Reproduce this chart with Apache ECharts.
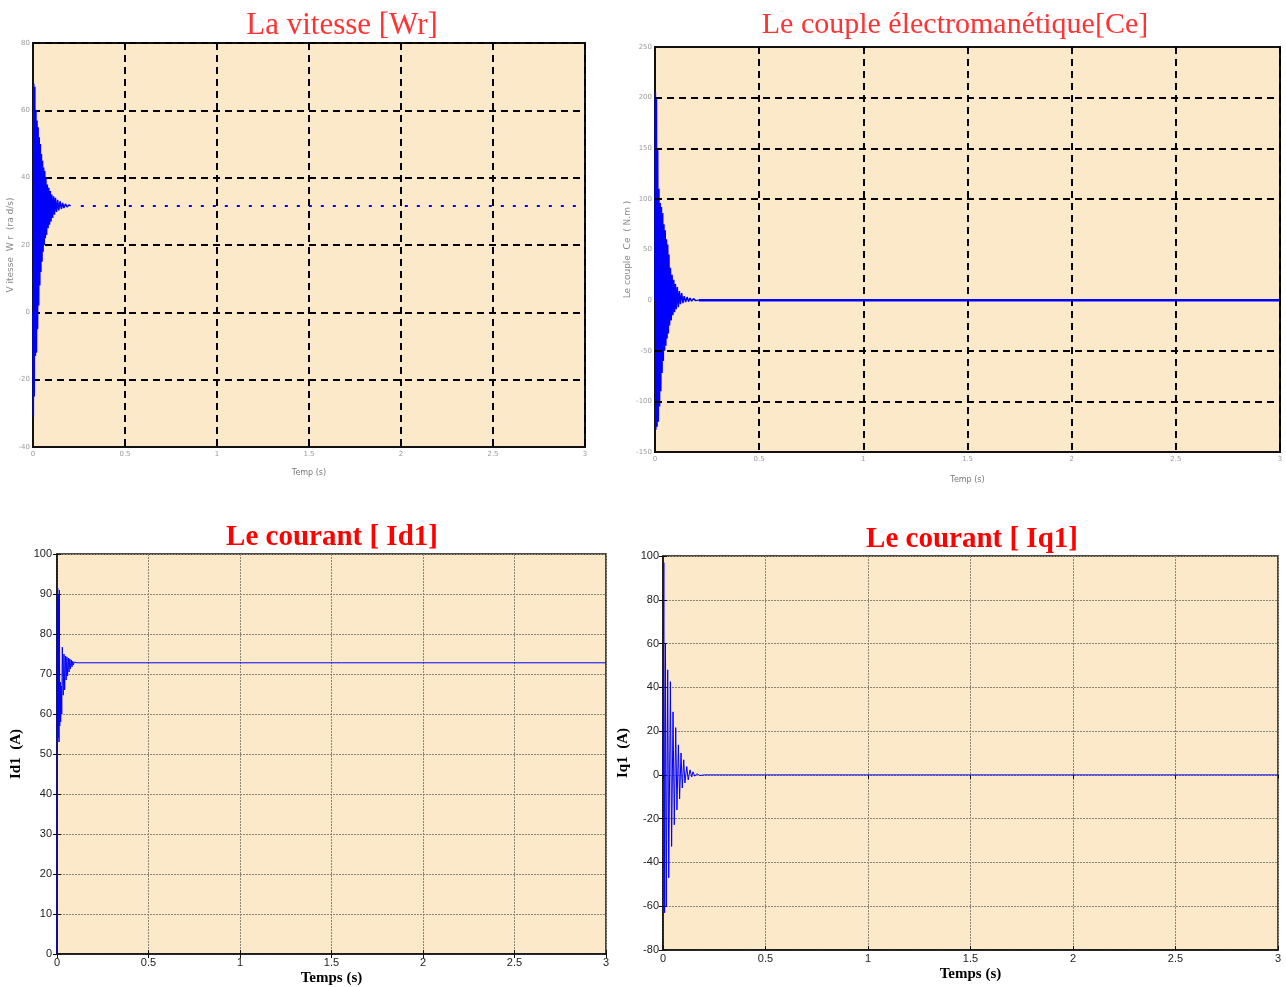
<!DOCTYPE html>
<html>
<head>
<meta charset="utf-8">
<title>Simulation MSAP</title>
<script src="https://cdn.jsdelivr.net/npm/echarts@6/dist/echarts.min.js"></script>
<style>
  html, body { margin: 0; padding: 0; background: #ffffff; }
  #chart { width: 1286px; height: 987px; }
</style>
</head>
<body>
<div id="chart"></div>
<script>
// ---- Time axis (seconds) shared by the four plots ----
const timeTicks = [0, 0.5, 1, 1.5, 2, 2.5, 3];

// ---- Vitesse Wr (rad/s): start-up transient then steady value ----
const wrTransient = [
  [0, 0], [0.002, -31], [0.004, 68], [0.007, -25], [0.010, 67], [0.013, -13],
  [0.016, 60], [0.019, -12], [0.022, 57], [0.025, -5], [0.028, 55], [0.031, 2],
  [0.034, 52], [0.037, 8], [0.040, 50], [0.043, 12], [0.046, 47], [0.049, 15],
  [0.052, 45], [0.055, 18], [0.058, 43], [0.061, 20], [0.064, 42], [0.067, 22],
  [0.070, 40], [0.074, 23], [0.078, 38], [0.082, 25], [0.086, 37], [0.090, 26],
  [0.094, 36], [0.098, 27], [0.102, 35], [0.107, 28], [0.112, 34.5], [0.117, 29],
  [0.122, 34], [0.128, 29.8], [0.134, 33.4], [0.140, 30.3], [0.147, 33], [0.154, 30.7],
  [0.161, 32.5], [0.168, 31], [0.176, 32.2], [0.185, 31.3], [0.195, 31.9], [0.205, 31.6]
];
const wrSteady = [[0.26, 31.6], [3, 31.6]];
const wrTicks = [-40, -20, 0, 20, 40, 60, 80];

// ---- Couple électromagnétique Ce (N.m) ----
const ceTransient = [
  [0, 0], [0.002, 205], [0.004, -128], [0.007, 200], [0.010, -125], [0.013, 150],
  [0.016, -120], [0.019, 110], [0.022, -105], [0.025, 96], [0.028, -90], [0.031, 92],
  [0.034, -72], [0.037, 86], [0.040, -60], [0.043, 75], [0.046, -50], [0.049, 69],
  [0.052, -45], [0.055, 60], [0.058, -38], [0.061, 55], [0.064, -33], [0.067, 45],
  [0.070, -25], [0.074, 32], [0.078, -20], [0.082, 25], [0.086, -15], [0.090, 20],
  [0.094, -12], [0.098, 16], [0.102, -9], [0.107, 13], [0.112, -7], [0.117, 9],
  [0.122, -4], [0.128, 7], [0.134, -3], [0.140, 4], [0.147, -2], [0.154, 3],
  [0.161, -1.5], [0.168, 2], [0.176, -1], [0.185, 1.5], [0.195, -0.5], [0.21, 0]
];
const ceSteady = [[0.21, 0], [3, 0]];
const ceTicks = [-150, -100, -50, 0, 50, 100, 150, 200, 250];
const ceGridLevels = [200, 150, 100, -50, -100];

// ---- Courant Id1 (A) ----
const id1Transient = [
  [0, 0], [0.001, 86], [0.004, 91.5], [0.007, 54], [0.009, 90], [0.011, 53],
  [0.013, 91], [0.015, 57], [0.018, 68], [0.020, 58], [0.023, 67], [0.026, 60],
  [0.029, 76.7], [0.034, 64.7], [0.038, 75], [0.042, 66], [0.046, 74.5], [0.050, 68.5],
  [0.054, 74.3], [0.058, 69.5], [0.062, 74], [0.066, 70.5], [0.070, 73.8], [0.074, 71.3],
  [0.078, 73.5], [0.082, 71.8], [0.086, 73.2], [0.090, 72.3], [0.095, 73], [0.100, 72.6],
  [0.110, 72.8]
];
const id1Steady = [[0.110, 72.8], [3, 72.8]];
const id1Ticks = [0, 10, 20, 30, 40, 50, 60, 70, 80, 90, 100];

// ---- Courant Iq1 (A) ----
const iq1Transient = [
  [0, 0], [0.004, 97], [0.008, -63], [0.012, 60], [0.016, -60], [0.023, 48],
  [0.028, -47], [0.036, 42.6], [0.042, -32.7], [0.049, 28.8], [0.055, -22.8],
  [0.062, 21.6], [0.068, -16], [0.075, 13.7], [0.081, -11], [0.088, 10], [0.094, -6],
  [0.101, 6.9], [0.107, -3.7], [0.116, 3.8], [0.123, -2.3], [0.132, 2.3], [0.140, -1],
  [0.146, 1.4], [0.155, -0.6], [0.165, 0.5], [0.180, -0.3], [0.200, 0]
];
const iq1Steady = [[0.200, 0], [3, 0]];
const iq1Ticks = [-80, -60, -40, -20, 0, 20, 40, 60, 80, 100];

// ---- Styling ----
const plotBg = '#fce9c9';
const traceBlue = '#0000ff';

const chart = echarts.init(document.getElementById('chart'), null, { renderer: 'canvas' });

function span(ticks) {
  return { min: ticks[0], max: ticks[ticks.length - 1], interval: ticks[1] - ticks[0] };
}

// Small, faded labels used on the two upper plots
const tinyLabel = { fontSize: 7, color: '#9a9a9a', fontFamily: 'DejaVu Sans' };
const dashedGrid = { show: true, lineStyle: { color: '#000', width: 2, type: [7, 5] } };
const thinGrid = { show: true, lineStyle: { color: '#8c8676', width: 1, type: [2, 1] } };
const boldSerif = { fontFamily: 'Liberation Serif', fontWeight: 'bold', fontSize: 15, color: '#000' };
const tickLabel = { fontFamily: 'Liberation Sans', fontSize: 11, color: '#222' };
const innerTick = { show: true, inside: true, length: 4, lineStyle: { color: '#111' } };

// Mirror axes carrying the inner ticks on the top and right edges of the lower plots
function mirrorX(gridIndex) {
  return { gridIndex, type: 'value', position: 'top', ...span(timeTicks),
    axisLine: { show: false }, axisTick: innerTick, axisLabel: { show: false }, splitLine: { show: false } };
}
function mirrorY(gridIndex, ticks) {
  return { gridIndex, type: 'value', position: 'right', ...span(ticks),
    axisLine: { show: false }, axisTick: innerTick, axisLabel: { show: false }, splitLine: { show: false } };
}

const option = {
  animation: false,
  backgroundColor: '#ffffff',
  title: [
    { text: 'La vitesse [Wr]', left: 337, top: 5, textAlign: 'center',
      textStyle: { fontFamily: 'Liberation Serif', fontWeight: 'normal', fontSize: 31, color: '#ff3333' } },
    { text: 'Le couple électromanétique[Ce]', left: 950, top: 5, textAlign: 'center',
      textStyle: { fontFamily: 'Liberation Serif', fontWeight: 'normal', fontSize: 30, color: '#ff3333' } },
    { text: 'Le courant [ Id1]', left: 327, top: 518, textAlign: 'center',
      textStyle: { fontFamily: 'Liberation Serif', fontWeight: 'bold', fontSize: 29, color: '#ff0000' } },
    { text: 'Le courant [ Iq1]', left: 967, top: 520, textAlign: 'center',
      textStyle: { fontFamily: 'Liberation Serif', fontWeight: 'bold', fontSize: 29, color: '#ff0000' } }
  ],
  grid: [
    { left: 33, top: 43, width: 552, height: 404, show: true, backgroundColor: plotBg, borderColor: '#111', borderWidth: 2 },
    { left: 655, top: 47, width: 625, height: 405, show: true, backgroundColor: plotBg, borderColor: '#111', borderWidth: 2 },
    { left: 57, top: 554, width: 549, height: 400, show: true, backgroundColor: plotBg, borderColor: '#111', borderWidth: 1.5 },
    { left: 663, top: 556, width: 615, height: 394, show: true, backgroundColor: plotBg, borderColor: '#111', borderWidth: 1.5 }
  ],
  xAxis: [
    { gridIndex: 0, type: 'value', ...span(timeTicks),
      axisLine: { show: true, onZero: false, lineStyle: { color: '#111', width: 2 } },
      axisTick: { show: false }, splitLine: dashedGrid,
      axisLabel: { ...tinyLabel, margin: 4 },
      name: 'Temp (s)', nameLocation: 'middle', nameGap: 22,
      nameTextStyle: { fontSize: 8, color: '#777', fontFamily: 'DejaVu Sans' } },
    { gridIndex: 1, type: 'value', ...span(timeTicks),
      axisLine: { show: true, onZero: false, lineStyle: { color: '#111', width: 2 } },
      axisTick: { show: false }, splitLine: dashedGrid,
      axisLabel: { ...tinyLabel, margin: 4 },
      name: 'Temp (s)', nameLocation: 'middle', nameGap: 24,
      nameTextStyle: { fontSize: 8, color: '#777', fontFamily: 'DejaVu Sans' } },
    { gridIndex: 2, type: 'value', ...span(timeTicks),
      axisLine: { show: true, onZero: false, lineStyle: { color: '#111', width: 1.5 } },
      axisTick: innerTick, splitLine: thinGrid,
      axisLabel: { ...tickLabel, margin: 3 },
      name: 'Temps (s)', nameLocation: 'middle', nameGap: 17, nameTextStyle: boldSerif },
    { gridIndex: 3, type: 'value', ...span(timeTicks),
      axisLine: { show: true, onZero: false, lineStyle: { color: '#111', width: 1.5 } },
      axisTick: innerTick, splitLine: thinGrid,
      axisLabel: { ...tickLabel, margin: 3 },
      name: 'Temps (s)', nameLocation: 'middle', nameGap: 17, nameTextStyle: boldSerif },
    mirrorX(2),
    mirrorX(3)
  ],
  yAxis: [
    { gridIndex: 0, type: 'value', ...span(wrTicks),
      axisLine: { show: true, onZero: false, lineStyle: { color: '#111', width: 2 } },
      axisTick: { show: false }, splitLine: dashedGrid,
      axisLabel: { ...tinyLabel, margin: 3 },
      name: 'V itesse  W r  (ra d/s)', nameLocation: 'middle', nameGap: 12, nameRotate: 90,
      nameTextStyle: { fontSize: 9, color: '#888', fontFamily: 'DejaVu Sans' } },
    { gridIndex: 1, type: 'value', ...span(ceTicks),
      axisLine: { show: true, onZero: false, lineStyle: { color: '#111', width: 2 } },
      axisTick: { show: false }, splitLine: { show: false },
      axisLabel: { ...tinyLabel, margin: 3 },
      name: 'Le couple  Ce  ( N.m )', nameLocation: 'middle', nameGap: 14, nameRotate: 90,
      nameTextStyle: { fontSize: 9, color: '#888', fontFamily: 'DejaVu Sans' } },
    { gridIndex: 2, type: 'value', ...span(id1Ticks),
      axisLine: { show: true, onZero: false, lineStyle: { color: '#111', width: 1.5 } },
      axisTick: innerTick, splitLine: thinGrid,
      axisLabel: { ...tickLabel, margin: 5 },
      name: 'Id1  (A)', nameLocation: 'middle', nameGap: 33, nameRotate: 90, nameTextStyle: boldSerif },
    { gridIndex: 3, type: 'value', ...span(iq1Ticks),
      axisLine: { show: true, onZero: false, lineStyle: { color: '#111', width: 1.5 } },
      axisTick: innerTick, splitLine: thinGrid,
      axisLabel: { ...tickLabel, margin: 4 },
      name: 'Iq1  (A)', nameLocation: 'middle', nameGap: 32, nameRotate: 90, nameTextStyle: boldSerif },
    mirrorY(2, id1Ticks),
    mirrorY(3, iq1Ticks)
  ],
  series: [
    { name: 'Wr', type: 'line', xAxisIndex: 0, yAxisIndex: 0, data: wrTransient,
      showSymbol: false, lineStyle: { color: traceBlue, width: 1.5 } },
    { name: 'Wr régime', type: 'line', xAxisIndex: 0, yAxisIndex: 0, data: wrSteady,
      showSymbol: false, lineStyle: { color: traceBlue, width: 2, type: [3, 9] } },

    { name: 'Ce', type: 'line', xAxisIndex: 1, yAxisIndex: 1, data: ceTransient,
      showSymbol: false, lineStyle: { color: traceBlue, width: 1.5 } },
    { name: 'Ce régime', type: 'line', xAxisIndex: 1, yAxisIndex: 1, data: ceSteady,
      showSymbol: false, lineStyle: { color: traceBlue, width: 2.5 },
      markLine: { silent: true, symbol: 'none', label: { show: false },
        lineStyle: { color: '#000', width: 2, type: [7, 5] },
        data: ceGridLevels.map(v => ({ yAxis: v })) } },

    { name: 'Id1', type: 'line', xAxisIndex: 2, yAxisIndex: 2, data: id1Transient.concat(id1Steady),
      showSymbol: false, lineStyle: { color: traceBlue, width: 1 } },

    { name: 'Iq1', type: 'line', xAxisIndex: 3, yAxisIndex: 3, data: iq1Transient.concat(iq1Steady),
      showSymbol: false, lineStyle: { color: traceBlue, width: 1 } }
  ]
};

chart.setOption(option);
</script>
</body>
</html>
